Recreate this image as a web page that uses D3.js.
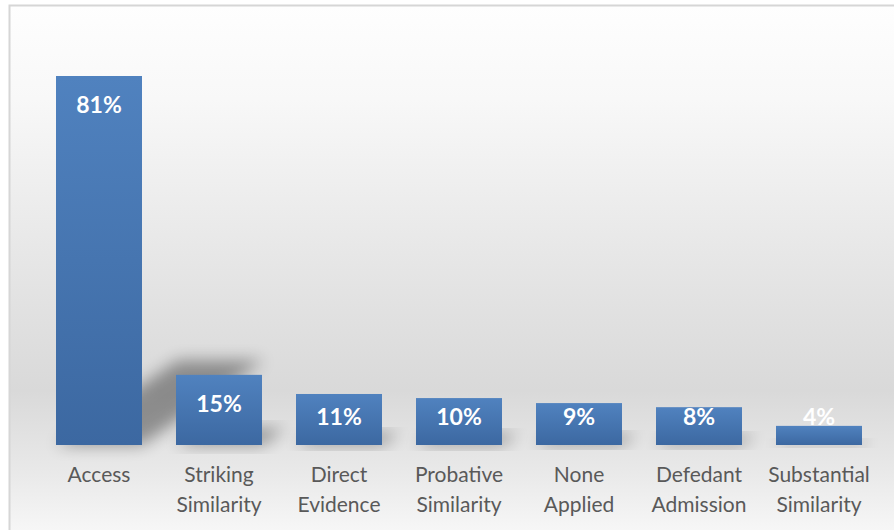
<!DOCTYPE html>
<html>
<head>
<meta charset="utf-8">
<script src="https://cdn.jsdelivr.net/npm/d3@7/dist/d3.min.js"></script>
<style>
  html, body { margin: 0; padding: 0; background: #ffffff; }
  svg { display: block; }
</style>
</head>
<body>
<svg id="chart" width="894" height="530"></svg>
<script>
const categories = [
  ["Access"],
  ["Striking", "Similarity"],
  ["Direct", "Evidence"],
  ["Probative", "Similarity"],
  ["None", "Applied"],
  ["Defedant", "Admission"],
  ["Substantial", "Similarity"]
];
const values = [81, 15.4, 11.2, 10.3, 9.2, 8.3, 4.2];
const valueLabels = ["81%", "15%", "11%", "10%", "9%", "8%", "4%"];

const svg = d3.select("#chart");
const W = 894, H = 530;
const defs = svg.append("defs");

const bg = defs.append("linearGradient").attr("id", "bgGrad")
  .attr("x1", 0).attr("y1", 0).attr("x2", 0).attr("y2", 1);
[[0, "#fefefe"], [0.17, "#f8f8f8"], [0.45, "#e7e7e7"], [0.7, "#d9d9d9"], [0.85, "#e9e9e9"], [1, "#fcfcfc"]]
  .forEach(([o, c]) => bg.append("stop").attr("offset", o).attr("stop-color", c));

const barGrad = defs.append("linearGradient").attr("id", "barGrad")
  .attr("x1", 0).attr("y1", 0).attr("x2", 0).attr("y2", 1);
barGrad.append("stop").attr("offset", 0).attr("stop-color", "#5082bf");
barGrad.append("stop").attr("offset", 1).attr("stop-color", "#3c68a1");

const blur = defs.append("filter").attr("id", "blur")
  .attr("x", "-50%").attr("y", "-50%").attr("width", "200%").attr("height", "200%");
blur.append("feGaussianBlur").attr("stdDeviation", 8);

// chart area background + border
svg.append("rect")
  .attr("x", 9.5).attr("y", 5.5)
  .attr("width", W + 20).attr("height", H + 20)
  .attr("fill", "url(#bgGrad)")
  .attr("stroke", "#d6d6d6").attr("stroke-width", 2);

const idx = categories.map((d, i) => i);
const x = d3.scaleBand()
  .domain(idx)
  .range([39, 879])
  .paddingInner(34 / 120)
  .paddingOuter(17 / 120);
const y = d3.scaleLinear().domain([0, 90]).range([445, 35]);

// perspective shadows
const g = svg.append("g");
g.selectAll("path.shadow")
  .data(values)
  .enter().append("path")
  .attr("class", "shadow")
  .attr("d", (v, i) => {
    const x0 = x(i), x1 = x(i) + x.bandwidth();
    const b = y(0), h = y(0) - y(v);
    const sh = h * 0.23, dx = h * 0.33;
    return `M${x0},${b} L${x1},${b} L${x1 + dx},${b - sh} L${x0 + dx},${b - sh} Z`;
  })
  .attr("fill", "#000")
  .attr("opacity", 0.36)
  .attr("filter", "url(#blur)");

// bars
g.selectAll("rect.bar")
  .data(values)
  .enter().append("rect")
  .attr("class", "bar")
  .attr("x", (v, i) => x(i))
  .attr("y", v => y(v))
  .attr("width", x.bandwidth())
  .attr("height", v => y(0) - y(v))
  .attr("fill", "url(#barGrad)");

// value labels
g.selectAll("text.val")
  .data(values)
  .enter().append("text")
  .attr("class", "val")
  .attr("x", (v, i) => x(i) + x.bandwidth() / 2)
  .attr("y", v => Math.min(y(v) + 37, 425))
  .attr("text-anchor", "middle")
  .attr("font-family", "Lato, 'Open Sans', sans-serif")
  .attr("font-weight", "bold")
  .attr("font-size", 23)
  .attr("fill", "#ffffff")
  .text((v, i) => valueLabels[i]);

// category axis
const axis = d3.axisBottom(x).tickSize(0).tickFormat("");
const ax = svg.append("g").attr("transform", `translate(0,${y(0)})`).call(axis);
ax.select(".domain").remove();
ax.selectAll(".tick").each(function(i) {
  const t = d3.select(this).append("text")
    .attr("text-anchor", "middle")
    .attr("font-family", "Lato, 'Open Sans', sans-serif")
    .attr("font-size", 21)
    .attr("fill", "#595959");
  categories[i].forEach((line, k) => {
    t.append("tspan").attr("x", 0).attr("y", 37 + k * 30).text(line);
  });
});
</script>
</body>
</html>
